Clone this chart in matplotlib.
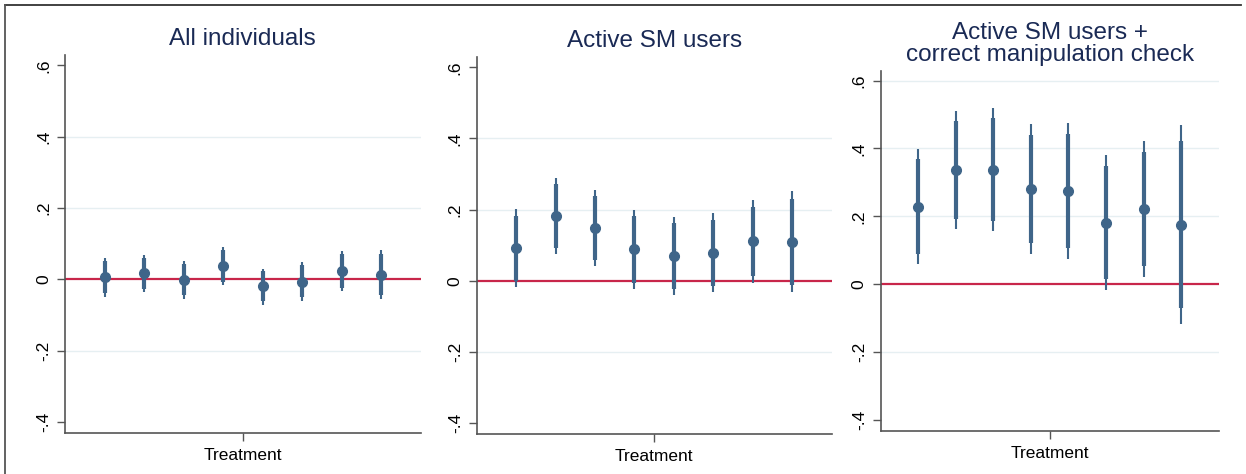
import numpy as np
import matplotlib
matplotlib.use("Agg")
import matplotlib.pyplot as plt
from matplotlib.lines import Line2D

plt.rcParams['font.family'] = ['Liberation Sans', 'DejaVu Sans']

titles = ["All individuals", "Active SM users", "Active SM users +\ncorrect manipulation check"]
xlabel = "Treatment"
yticks = [-0.4, -0.2, 0.0, 0.2, 0.4, 0.6]
yticklabels = ["-.4", "-.2", "0", ".2", ".4", ".6"]

# Panel 1: All individuals
est1 = [0.0065, 0.018, -0.001, 0.037, -0.020, -0.0065, 0.023, 0.013]
hi95_1 = [0.061, 0.068, 0.051, 0.090, 0.030, 0.049, 0.079, 0.082]
lo95_1 = [-0.049, -0.035, -0.054, -0.016, -0.071, -0.062, -0.033, -0.054]
hi90_1 = [0.051, 0.061, 0.042, 0.082, 0.022, 0.040, 0.070, 0.070]
lo90_1 = [-0.039, -0.026, -0.045, -0.007, -0.062, -0.051, -0.023, -0.045]

# Panel 2: Active SM users
est2 = [0.092, 0.182, 0.147, 0.088, 0.069, 0.079, 0.111, 0.110]
hi95_2 = [0.201, 0.289, 0.256, 0.200, 0.180, 0.190, 0.228, 0.251]
lo95_2 = [-0.018, 0.075, 0.040, -0.023, -0.040, -0.033, -0.007, -0.033]
hi90_2 = [0.183, 0.272, 0.239, 0.181, 0.162, 0.172, 0.208, 0.229]
lo90_2 = [-0.002, 0.092, 0.057, -0.007, -0.023, -0.014, 0.012, -0.011]

# Panel 3: Active SM users + correct manipulation check
est3 = [0.229, 0.336, 0.338, 0.281, 0.275, 0.181, 0.222, 0.176]
hi95_3 = [0.398, 0.510, 0.519, 0.472, 0.476, 0.380, 0.422, 0.470]
lo95_3 = [0.061, 0.163, 0.157, 0.090, 0.075, -0.018, 0.022, -0.118]
hi90_3 = [0.370, 0.481, 0.490, 0.441, 0.443, 0.348, 0.389, 0.421]
lo90_3 = [0.088, 0.191, 0.187, 0.122, 0.107, 0.016, 0.054, -0.069]

panels = [
    (est1, lo95_1, hi95_1, lo90_1, hi90_1),
    (est2, lo95_2, hi95_2, lo90_2, hi90_2),
    (est3, lo95_3, hi95_3, lo90_3, hi90_3),
]

W, H = 1246, 474
fig = plt.figure(figsize=(W / 100, H / 100), dpi=100)
fig.patch.set_facecolor("white")

# axes rectangles in pixel coords: left, right, top, bottom
rects = [(65, 420.7, 55, 433), (476.7, 831.7, 57, 434), (880.7, 1218.7, 70.7, 430.7)]
title_y = [39, 41, 44]

MARK = "#3f6589"
RED = "#c8264a"
GRID = "#e6eff2"
AXC = "#555555"

for i, ((l, r, t, b), data) in enumerate(zip(rects, panels)):
    ax = fig.add_axes([l / W, 1 - b / H, (r - l) / W, (b - t) / H])
    est, lo95, hi95, lo90, hi90 = [np.asarray(d) for d in data]
    x = np.arange(1, len(est) + 1)
    ax.set_xlim(0, len(est) + 1)
    ax.set_ylim(-0.431, 0.629)
    grid_ticks = [0.6, 0.4, 0.2, -0.2] if i == 2 else [0.4, 0.2, -0.2]
    for g in grid_ticks:
        ax.axhline(g, color=GRID, lw=1.0, zorder=0)
    ax.axhline(0, color=RED, lw=1.6, zorder=1)
    ax.vlines(x, lo95, hi95, color=MARK, lw=1.5, zorder=2)
    ax.vlines(x, lo90, hi90, color=MARK, lw=3.0, zorder=3)
    ax.plot(x, est, 'o', color=MARK, ms=7, zorder=4)
    ax.set_yticks(yticks)
    ax.set_yticklabels(yticklabels, rotation=90, va='center', fontsize=12.5)
    ax.set_xticks([(len(est) + 1) / 2])
    ax.set_xticklabels([xlabel], fontsize=12.5)
    ax.tick_params(axis='both', direction='out', length=6, width=1, color=AXC, pad=4)
    ax.tick_params(axis='x', pad=5)
    for s in ['top', 'right']:
        ax.spines[s].set_visible(False)
    for s in ['left', 'bottom']:
        ax.spines[s].set_color(AXC)
        ax.spines[s].set_linewidth(1.2)
    cx = (l + r) / 2
    fig.text(cx / W, 1 - title_y[i] / H, titles[i], ha='center', va='center',
             fontsize=17.5, color="#1a2a55", linespacing=1.0)

# outer frame (top and left edges visible)
fig.add_artist(Line2D([5 / W, 1241 / W], [1 - 5 / H, 1 - 5 / H], color="#333333", lw=1.3))
fig.add_artist(Line2D([5 / W, 5 / W], [0, 1 - 5 / H], color="#555555", lw=1.3))

fig.savefig("out.png", dpi=100, facecolor="white")
